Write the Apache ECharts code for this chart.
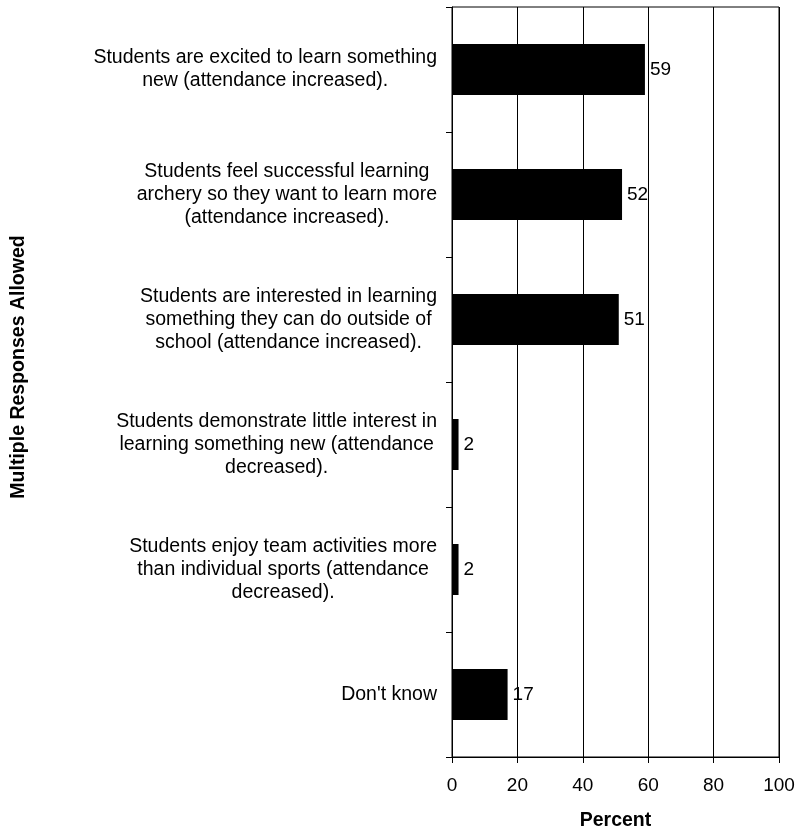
<!DOCTYPE html>
<html>
<head>
<meta charset="utf-8">
<script src="https://cdn.jsdelivr.net/npm/echarts@6/dist/echarts.min.js"></script>
<style>
    html, body { margin: 0; padding: 0; background: #fff; }
    #chart { width: 797px; height: 829px; }
</style>
</head>
<body>
<div id="chart"></div>
<script>
// categories, top to bottom
const categories = [
    'Students are excited to learn something\nnew (attendance increased).',
    'Students feel successful learning\narchery so they want to learn more\n(attendance increased).',
    'Students are interested in learning\nsomething they can do outside of\nschool (attendance increased).',
    'Students demonstrate little interest in\nlearning something new (attendance\ndecreased).',
    'Students enjoy team activities more\nthan individual sports (attendance\ndecreased).',
    "Don't know"
]
const percentValues = [59, 52, 51, 2, 2, 17]
const xTicks = [0, 20, 40, 60, 80, 100]
const xAxisTitle = 'Percent'
const yAxisTitle = 'Multiple Responses Allowed'

const font = 'Arial, "Liberation Sans", sans-serif'

const chart = echarts.init(document.getElementById('chart'))
chart.setOption({
    animation: false,
    backgroundColor: '#fff',
    grid: {
        left: 452,
        right: 18,
        top: 7,
        bottom: 72,
        show: true,
        borderColor: '#000',
        borderWidth: 1,
        containLabel: false,
        outerBoundsMode: 'none'
    },
    xAxis: {
        type: 'value',
        min: xTicks[0],
        max: xTicks[xTicks.length - 1],
        interval: xTicks[1] - xTicks[0],
        name: xAxisTitle,
        nameLocation: 'middle',
        nameGap: 54,
        nameTextStyle: {
            fontFamily: font,
            fontSize: 19.5,
            fontWeight: 'bold',
            color: '#000'
        },
        axisLine: { show: true, lineStyle: { color: '#000', width: 1 } },
        axisTick: { show: true, length: 6, lineStyle: { color: '#000' } },
        axisLabel: {
            margin: 19,
            fontFamily: font,
            fontSize: 19,
            color: '#000'
        },
        splitLine: { show: true, lineStyle: { color: '#000', width: 1 } }
    },
    yAxis: {
        type: 'category',
        inverse: true,
        data: categories,
        axisLine: { show: true, lineStyle: { color: '#000', width: 1 } },
        axisTick: { show: true, length: 6, inside: false, lineStyle: { color: '#000' } },
        axisLabel: {
            margin: 15,
            color: '#000',
            formatter: function (val) {
                return val.split('\n').map(function (l) { return '{c|' + l + '}' }).join('\n')
            },
            rich: {
                c: {
                    align: 'center',
                    fontFamily: font,
                    fontSize: 19.5,
                    lineHeight: 23,
                    color: '#000'
                }
            }
        },
        splitLine: { show: false }
    },
    graphic: [
        {
            type: 'text',
            x: 19,
            y: 367,
            rotation: Math.PI / 2,
            style: {
                text: yAxisTitle,
                fontFamily: font,
                fontSize: 19.5,
                fontWeight: 'bold',
                fill: '#000',
                align: 'center',
                verticalAlign: 'middle'
            }
        }
    ],
    series: [
        {
            type: 'bar',
            data: percentValues,
            barWidth: 51,
            itemStyle: { color: '#000' },
            label: {
                show: true,
                position: 'right',
                distance: 5,
                fontFamily: font,
                fontSize: 19,
                color: '#000'
            }
        }
    ]
})
</script>
</body>
</html>
